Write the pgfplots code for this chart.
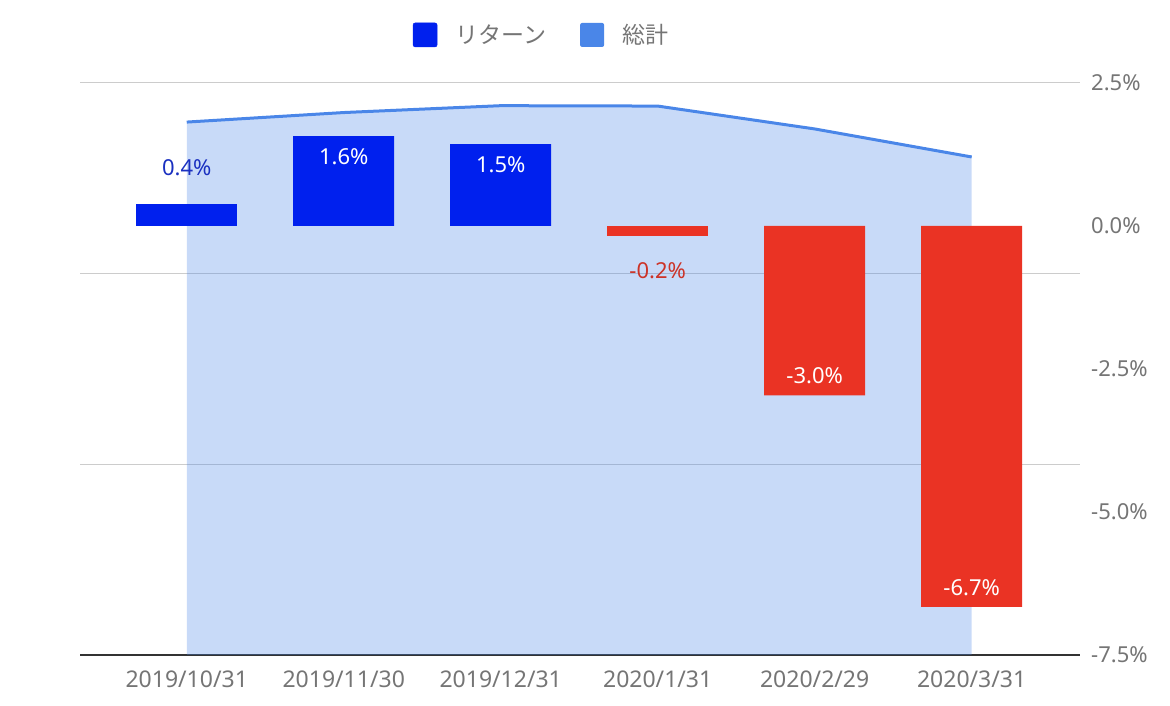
\documentclass[border=0pt]{standalone}
\usepackage{pgfplots}
\pgfplotsset{compat=1.18}
\usepackage{fontspec}
\setmainfont{Noto Sans}
\newfontfamily\cjk{Noto Sans CJK JP}
\definecolor{barblue}{HTML}{0020EE}
\definecolor{barred}{HTML}{EA3324}
\definecolor{areablue}{HTML}{4A86E8}
\definecolor{txtgray}{HTML}{757575}
\definecolor{gridgray}{HTML}{CCCCCC}
\definecolor{axisdark}{HTML}{333333}
\definecolor{lblblue}{HTML}{1A30C0}
\definecolor{lblred}{HTML}{CC3328}
\newcommand{\lblfont}{\fontsize{22}{26}\selectfont}
\begin{document}
\begin{tikzpicture}
\path[use as bounding box] (0pt,0pt) rectangle (1170pt,706pt);
% ---------- left (hidden) axis: total area ----------
\begin{axis}[
  at={(80pt,51pt)}, anchor=south west,
  width=1000pt, height=572pt, scale only axis,
  xmin=-0.68, xmax=5.69,
  ymin=0, ymax=3,
  ytick={1,2,3}, yticklabels={},
  extra y ticks={0}, extra y tick labels={},
  extra y tick style={grid style={axisdark, line width=2pt}},
  ymajorgrids, grid style={gridgray, line width=1pt},
  axis line style={draw=none},
  major tick length=0pt,
  xtick={0,1,2,3,4,5},
  xticklabels={2019/10/31,2019/11/30,2019/12/31,2020/1/31,2020/2/29,2020/3/31},
  xticklabel style={text=txtgray, font=\fontsize{23}{27}\selectfont, yshift=-12pt},
  legend columns=2,
  legend style={draw=none, fill=none, at={(0.4615,1.084)}, anchor=center,
    font=\cjk\fontsize{23}{27}\selectfont, text=txtgray,
    /tikz/every odd column/.append style={column sep=16pt},
    /tikz/every even column/.append style={column sep=32pt}},
  clip=false,
]
\addlegendimage{legend image code/.code={\fill[barblue, rounded corners=2pt] (0pt,-12pt) rectangle (24pt,12pt);}}
\addlegendentry{リターン}
\addplot[draw=none, fill=areablue, fill opacity=0.3,
  legend image code/.code={\fill[areablue, fill opacity=1, rounded corners=2pt] (0pt,-12pt) rectangle (24pt,12pt);}]
  coordinates {(0,2.795) (1,2.845) (2,2.881) (3,2.879) (4,2.759) (5,2.612)} \closedcycle;
\addlegendentry{総計}
\addplot[forget plot, color=areablue, line width=3pt]
  coordinates {(0,2.795) (1,2.845) (2,2.881) (3,2.879) (4,2.759) (5,2.612)};
\end{axis}
% ---------- right axis: returns ----------
\begin{axis}[
  at={(80pt,51pt)}, anchor=south west,
  width=1000pt, height=572pt, scale only axis,
  xmin=-0.68, xmax=5.69,
  ymin=-7.5, ymax=2.5,
  ytick={-7.5,-5,-2.5,0,2.5},
  yticklabels={-7.5\%,-5.0\%,-2.5\%,0.0\%,2.5\%},
  yticklabel pos=right,
  yticklabel style={anchor=west, inner sep=0pt, xshift=11pt, text=txtgray, font=\fontsize{22}{26}\selectfont},
  xtick=\empty,
  axis line style={draw=none},
  major tick length=0pt,
  clip=false,
]
\addplot[ybar, bar width=101pt, bar shift=0pt, fill=barblue, draw=none,
  point meta=explicit symbolic, nodes near coords,
  nodes near coords style={anchor=south, yshift=25pt, text=lblblue, font=\lblfont}]
  coordinates {(0,0.38) [0.4\%]};
\addplot[ybar, bar width=101pt, bar shift=0pt, fill=barblue, draw=none,
  point meta=explicit symbolic, nodes near coords,
  nodes near coords style={anchor=north, yshift=-9pt, text=white, font=\lblfont}]
  coordinates {(1,1.57) [1.6\%] (2,1.43) [1.5\%]};
\addplot[ybar, bar width=101pt, bar shift=0pt, fill=barred, draw=none,
  point meta=explicit symbolic, nodes near coords,
  nodes near coords style={anchor=north, yshift=-23pt, text=lblred, font=\lblfont}]
  coordinates {(3,-0.17) [-0.2\%]};
\addplot[ybar, bar width=101pt, bar shift=0pt, fill=barred, draw=none,
  point meta=explicit symbolic, nodes near coords,
  nodes near coords style={anchor=south, yshift=8pt, text=white, font=\lblfont}]
  coordinates {(4,-2.96) [-3.0\%] (5,-6.66) [-6.7\%]};
\end{axis}
\end{tikzpicture}
\end{document}
